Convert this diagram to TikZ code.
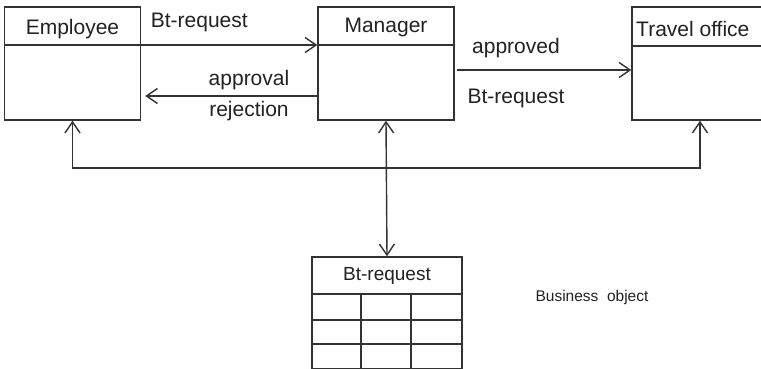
\documentclass[tikz,border=0pt]{standalone}
\usepackage{fontspec}
\setmainfont{Liberation Sans}
\usetikzlibrary{arrows.meta,calc}
\definecolor{ln}{HTML}{333333}
\definecolor{tx}{HTML}{222222}
\tikzset{
  box/.style={draw=ln, line width=1.4pt, minimum width=136pt, minimum height=113pt, inner sep=0pt},
  lbl/.style={text=tx, inner sep=0pt, font=\fontsize{21}{25}\selectfont},
  small/.style={text=tx, inner sep=0pt, font=\fontsize{19}{23}\selectfont},
  tiny/.style={text=tx, inner sep=0pt, font=\fontsize{15.5}{19}\selectfont},
  conn/.style={draw=ln, line width=1.4pt},
  arr/.style={conn, -{Straight Barb[length=11pt,width=15pt,line width=1.4pt]}},
  darr/.style={conn, {Straight Barb[length=11pt,width=15pt,line width=1.4pt]}-{Straight Barb[length=11pt,width=15pt,line width=1.4pt]}},
}
\begin{document}
\begin{tikzpicture}[x=1pt,y=-1pt]
\useasboundingbox (0,0) rectangle (761,369);
\clip (0,0) rectangle (761,369);
\fill[white] (0,0) rectangle (761,369);
% boxes
\node[box] (emp) at (72.5,63.5) {};
\node[box] (mgr) at (386,63.5) {};
\node[box] (tr) at (700,63.5) {};
\draw[conn] ([yshift=18.5pt]emp.west) -- ([yshift=18.5pt]emp.east);
\draw[conn] ([yshift=18.5pt]mgr.west) -- ([yshift=18.5pt]mgr.east);
\draw[conn] ([yshift=17.5pt]tr.west) -- ([yshift=17.5pt]tr.east);
\node[lbl] (empt) at (72.5,29) {Employee};
\node[lbl] (mgrt) at (386,27) {Manager};
\node[lbl, anchor=west] (trt) at (636,29) {Travel office};
% table
\node[draw=ln, line width=1.4pt, minimum width=150pt, minimum height=112pt, inner sep=0pt] (tbl) at (387,313) {};
\draw[conn] (312,294) -- (462,294);
\draw[conn] (312,320) -- (462,320);
\draw[conn] (312,344) -- (462,344);
\draw[conn] (361,294) -- (361,369);
\draw[conn] (411,294) -- (411,369);
\node[small] (tblt) at (387,276) {Bt-request};
\node[tiny] (bo) at (592,297) {Business\ \ object};
% connectors
\draw[arr] ([yshift=18.5pt]emp.east) -- node[lbl, above=12pt, pos=0.33] (l1) {Bt-request} ([yshift=18.5pt]mgr.west);
\draw[arr, shorten >=4pt] ([yshift=-32.5pt]mgr.west) -- ([yshift=-32.5pt]emp.east);
\node[lbl] (l2) at (249,80) {approval};
\node[lbl] (l3) at (249,111) {rejection};
\draw[arr] ([xshift=2pt,yshift=-6.5pt]mgr.east) -- ([yshift=-6.5pt]tr.west);
\node[lbl] (l4) at (516,48) {approved};
\node[lbl] (l5) at (516,98) {Bt-request};
\coordinate (bus) at (386,168);
\draw[darr] (emp.south) -- (emp.south |- bus) -- (tr.south |- bus) -- (tr.south);
\draw[darr] (mgr.south) -- (tbl.north);
\end{tikzpicture}
\end{document}
